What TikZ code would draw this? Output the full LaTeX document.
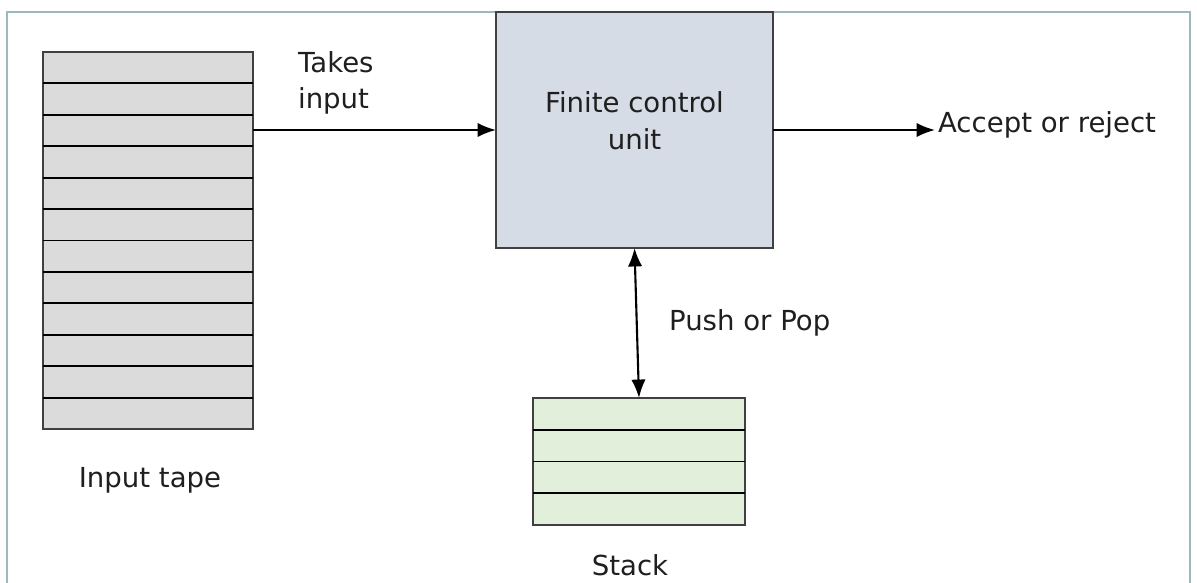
\documentclass[tikz,border=0pt]{standalone}
\usepackage{fontspec}
\setmainfont{DejaVu Sans}
\usetikzlibrary{calc, arrows.meta, positioning}
\definecolor{tapegray}{HTML}{DBDBDB}
\definecolor{unitblue}{HTML}{D6DCE5}
\definecolor{stackgreen}{HTML}{E2EFDA}
\definecolor{edgegray}{HTML}{404040}
\definecolor{framegray}{HTML}{9DB9BC}
\tikzset{
	box/.style={draw=edgegray, line width=1.7pt, inner sep=0pt, outer sep=0pt},
	cellline/.style={black, line width=1.4pt},
	link/.style={line width=1.5pt, >={Latex[length=4.6mm, width=3.6mm]}},
	lbl/.style={text=black!88, align=left, inner sep=2pt},
}

\begin{document}
\begin{tikzpicture}[x=0.025cm, y=-0.025cm]
	\fontsize{19.6}{26}\selectfont
	\useasboundingbox (0,0) rectangle (1197,583);
	\draw[framegray, line width=1pt] (7,583) -- (7,12) -- (1190,12) -- (1190,583);

	\node[box, fill=tapegray, minimum width=5.25cm, minimum height=9.425cm] (tape) at (148,240.5) {};
	\foreach \i in {1,...,11}
		\draw[cellline] ($(tape.north west)!\i/12!(tape.south west)$) -- ($(tape.north east)!\i/12!(tape.south east)$);
	\node[lbl] (tapelbl) at (150,480) {Input tape};

	\node[box, fill=unitblue, minimum width=6.925cm, minimum height=5.9cm] (fcu) at (634.5,130) {};
	\node[lbl, align=center] (fcutxt) at ($(fcu.center)+(0,-9)$) {Finite control\\unit};

	\node[box, fill=stackgreen, minimum width=5.3cm, minimum height=3.175cm] (stack) at (639,461.5) {};
	\foreach \i in {1,2,3}
		\draw[cellline] ($(stack.north west)!\i/4!(stack.south west)$) -- ($(stack.north east)!\i/4!(stack.south east)$);
	\node[lbl] (stacklbl) at (630,565) {Stack};

	\node[lbl, anchor=north west] (takes) at (295,48) {Takes\\input};
	\node[lbl, anchor=west] (result) at (935,125) {Accept or reject};
	\node[lbl, anchor=west] (pushpop) at (666,323) {Push or Pop};

	\draw[link, ->] (tape.east |- fcu.west) -- (fcu.west);
	\draw[link, ->] (fcu.east) -- (fcu.east -| result.west);
	\draw[link, <->] (stack.north) -- (fcu.south);
\end{tikzpicture}
\end{document}
